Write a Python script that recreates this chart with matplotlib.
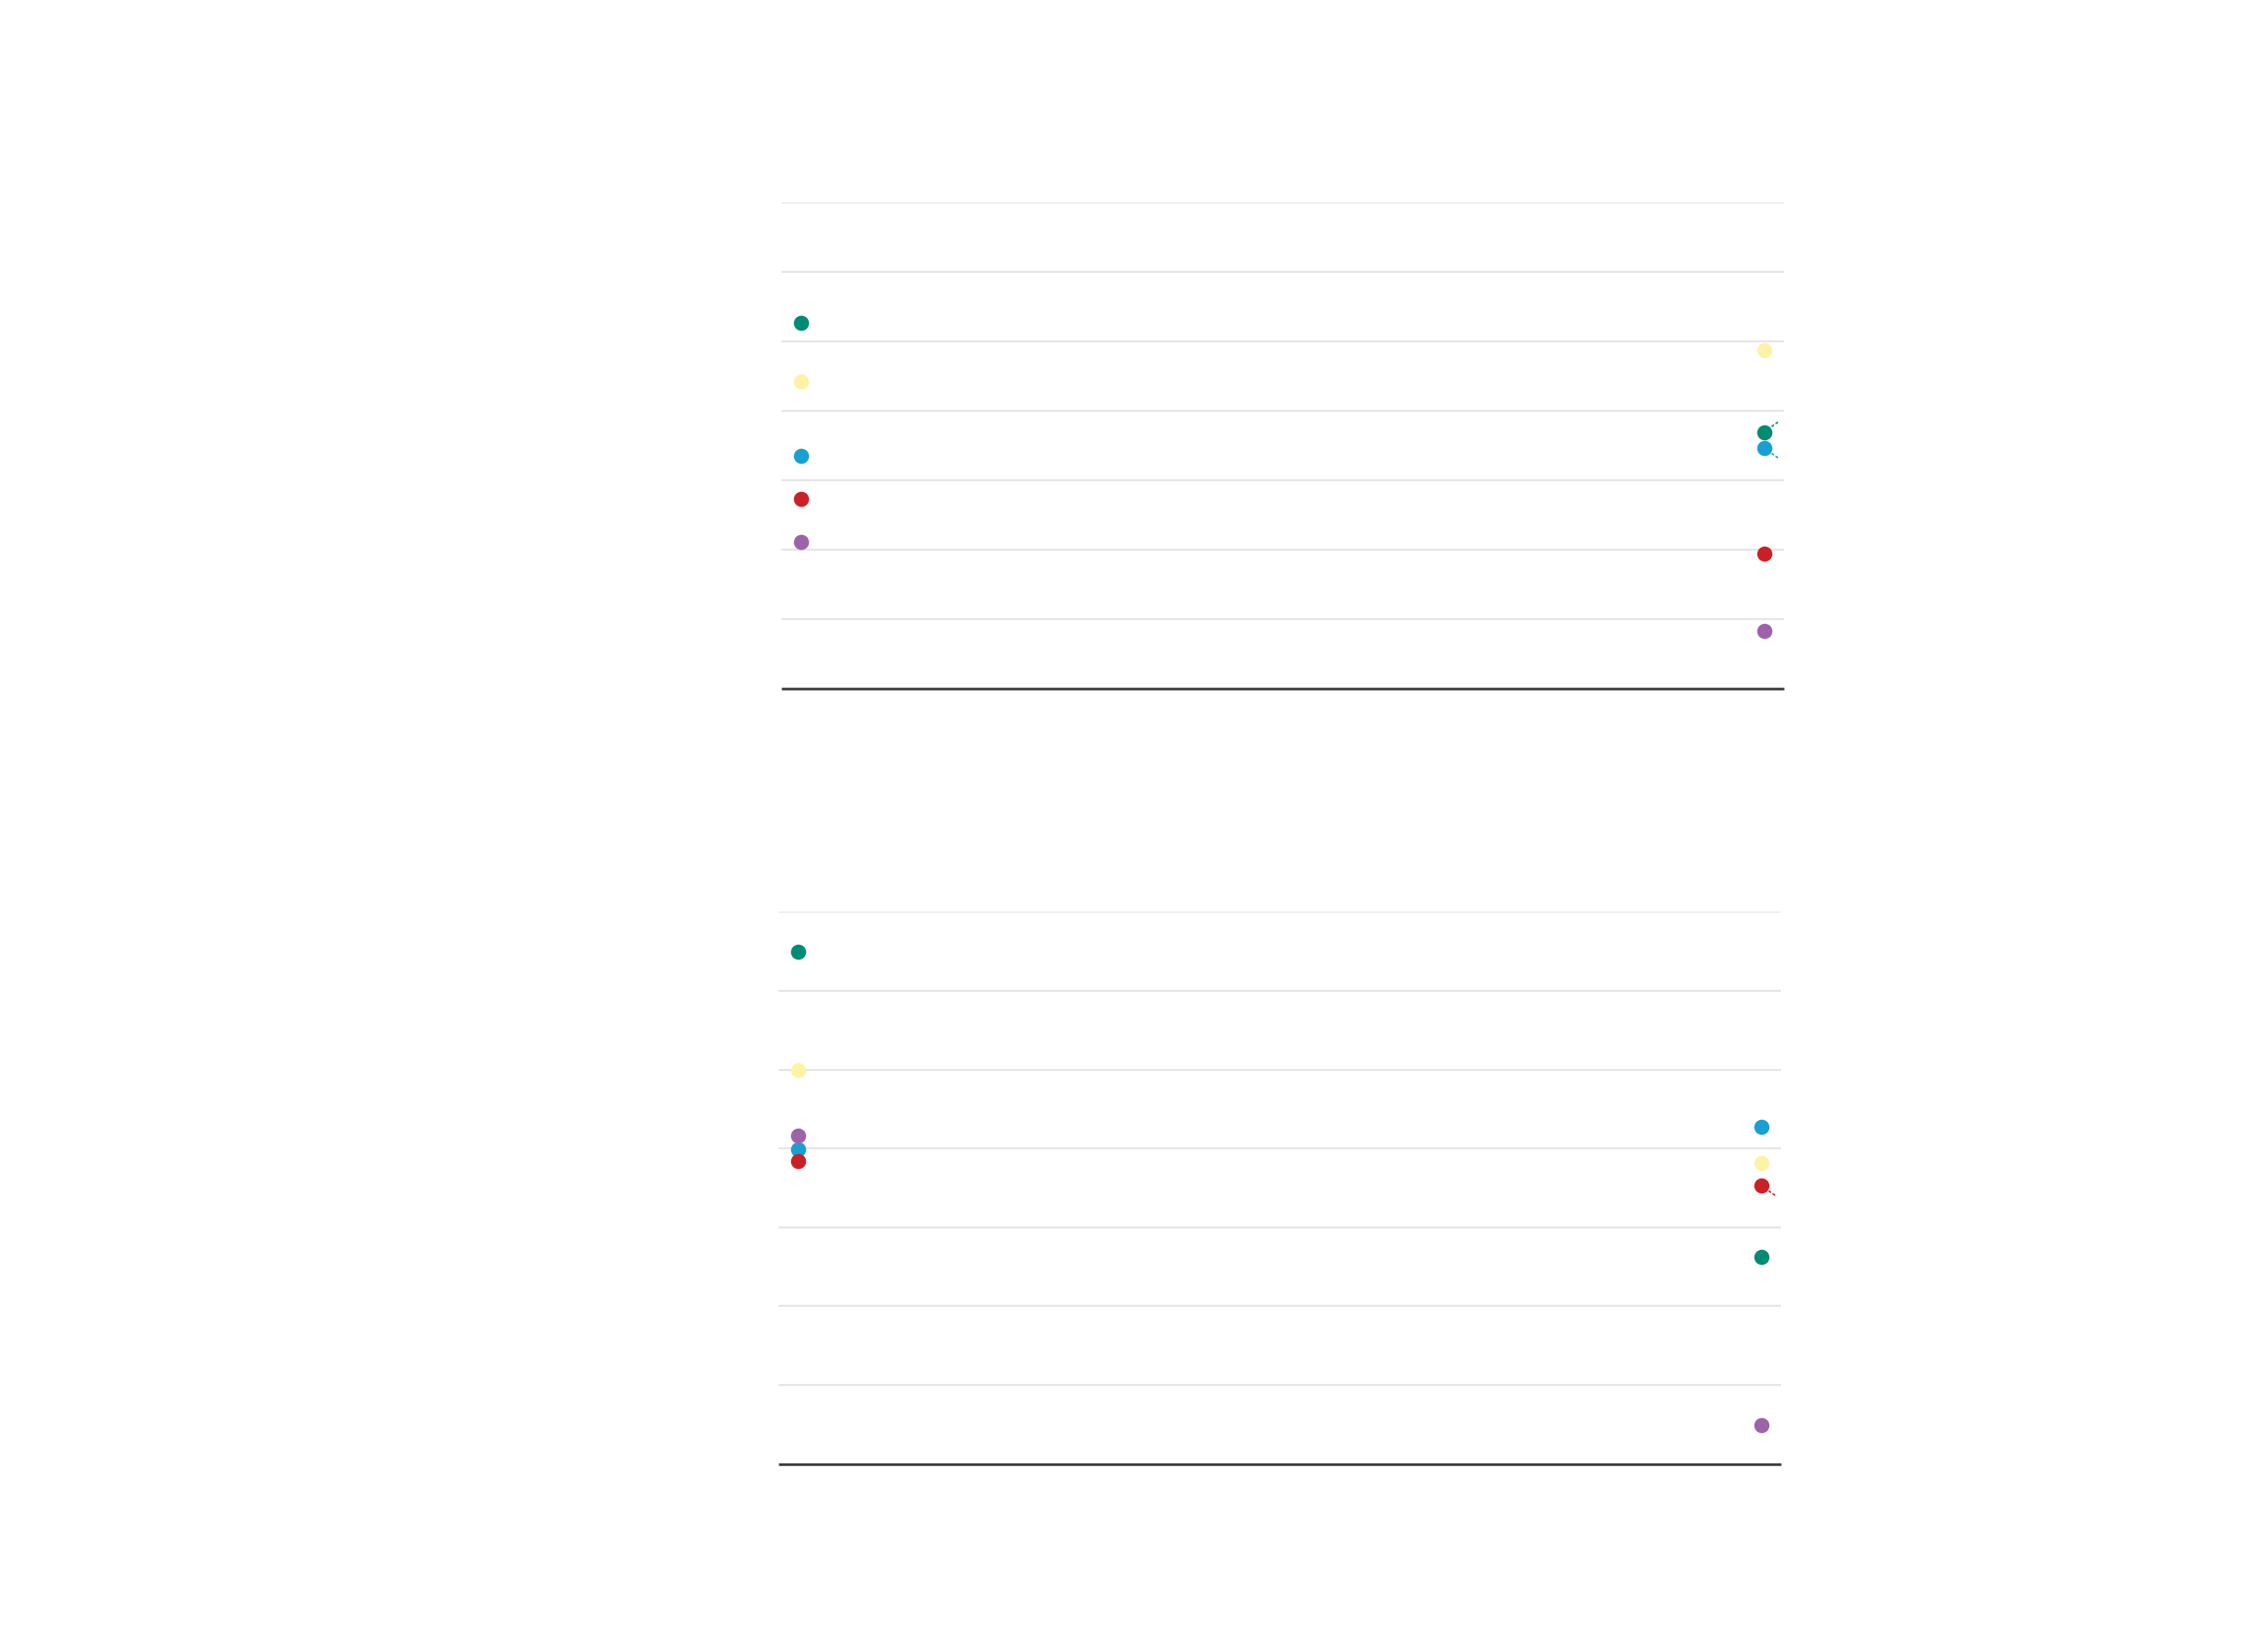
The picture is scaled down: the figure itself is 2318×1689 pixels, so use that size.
import matplotlib
matplotlib.use("Agg")
import matplotlib.pyplot as plt

# Data (y axis 0-70 with gridlines every 10)
periods = ["start", "end"]
series = ["green", "yellow", "blue", "red", "purple"]
colors = {"green": "#008c72", "yellow": "#fdf3a6", "blue": "#18a0d2",
          "red": "#cc2027", "purple": "#9d63aa"}

top_start = [52.6, 44.2, 33.5, 27.3, 21.1]
top_end = [36.9, 48.7, 34.6, 19.4, 8.3]

bottom_start = [64.9, 50.0, 39.9, 38.4, 41.6]
bottom_end = [26.2, 38.1, 42.8, 35.3, 4.9]

yticks = [0, 10, 20, 30, 40, 50, 60, 70]

# leader-line directions (offset points) for end labels that are shown
top_leaders = {"green": (10, 7), "blue": (10, -7)}
bottom_leaders = {"red": (10, -7)}

fig = plt.figure(figsize=(23.18, 16.90), dpi=100)
ax_top = fig.add_axes([0.3447, 0.5831, 0.4420, 0.2940])
ax_bot = fig.add_axes([0.3434, 0.1139, 0.4420, 0.3338])


def draw(ax, start, end, leaders):
    for i, s in enumerate(series):
        ax.plot([0, 1], [start[i], end[i]], linestyle="none", marker="o",
                markersize=11.2, color=colors[s], markeredgewidth=0, zorder=3)
        if s in leaders:
            ax.annotate("", xy=(1, end[i]), xytext=leaders[s],
                        textcoords="offset points",
                        arrowprops=dict(arrowstyle="-", linestyle=(0, (1, 2)),
                                        color=colors[s], lw=1.2,
                                        shrinkA=0, shrinkB=6), zorder=2)
    ax.set_xlim(-0.0203, 1.0203)
    ax.set_ylim(0, 70)
    ax.set_yticks(yticks)
    ax.set_xticks([])
    ax.tick_params(axis="y", length=0, labelleft=False)
    ax.grid(axis="y", color="#e6e6e6", linewidth=1.5, zorder=0)
    ax.set_axisbelow(True)
    for side in ["top", "right", "left"]:
        ax.spines[side].set_visible(False)
    ax.spines["bottom"].set_color("#333333")
    ax.spines["bottom"].set_linewidth(1.8)
    ax.spines["bottom"].set_capstyle("butt")
    ax.spines["bottom"].set_zorder(4)


draw(ax_top, top_start, top_end, top_leaders)
draw(ax_bot, bottom_start, bottom_end, bottom_leaders)

fig.savefig("out.png", dpi=100, facecolor="white")
